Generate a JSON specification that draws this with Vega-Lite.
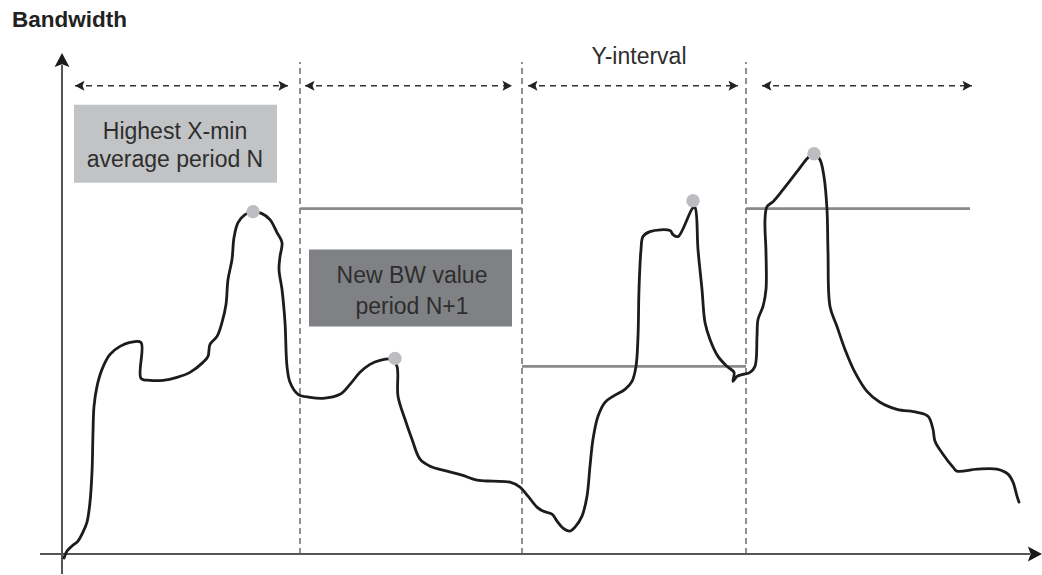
{
  "$schema": "https://vega.github.io/schema/vega-lite/v6.json",
  "width": 1042,
  "height": 575,
  "autosize": {"type": "fit", "contains": "padding"},
  "padding": 0,
  "background": "white",
  "config": {"view": {"stroke": null}},
  "datasets": {
    "curve": [
      {"i":1,"t":2,"bw":-4},{"i":2,"t":5,"bw":3},{"i":3,"t":10,"bw":8},{"i":4,"t":16,"bw":13},{"i":5,"t":21,"bw":22},
      {"i":6,"t":25,"bw":32},{"i":7,"t":28,"bw":52},{"i":8,"t":30,"bw":82},{"i":9,"t":31,"bw":122},{"i":10,"t":32,"bw":148},
      {"i":11,"t":35,"bw":168},{"i":12,"t":40,"bw":185},{"i":13,"t":48,"bw":200},{"i":14,"t":58,"bw":208},{"i":15,"t":68,"bw":212},
      {"i":16,"t":79,"bw":212},{"i":17,"t":79,"bw":176},{"i":18,"t":88,"bw":174},{"i":19,"t":101,"bw":174},{"i":20,"t":115,"bw":177},
      {"i":21,"t":128,"bw":182},{"i":22,"t":141,"bw":192},{"i":23,"t":146,"bw":198},{"i":24,"t":148,"bw":210},{"i":25,"t":155,"bw":218},
      {"i":26,"t":160,"bw":232},{"i":27,"t":164,"bw":250},{"i":28,"t":166,"bw":275},{"i":29,"t":170,"bw":295},{"i":30,"t":172,"bw":317},
      {"i":31,"t":176,"bw":332},{"i":32,"t":183,"bw":340},{"i":33,"t":191,"bw":343},{"i":34,"t":200,"bw":341},{"i":35,"t":208,"bw":335},
      {"i":36,"t":215,"bw":322},{"i":37,"t":220,"bw":312},{"i":38,"t":218,"bw":298},{"i":39,"t":217,"bw":285},{"i":40,"t":220,"bw":265},
      {"i":41,"t":223,"bw":232},{"i":42,"t":225,"bw":188},{"i":43,"t":228,"bw":172},{"i":44,"t":236,"bw":160},{"i":45,"t":248,"bw":157},
      {"i":46,"t":261,"bw":156},{"i":47,"t":278,"bw":160},{"i":48,"t":288,"bw":170},{"i":49,"t":298,"bw":182},{"i":50,"t":308,"bw":190},
      {"i":51,"t":318,"bw":194},{"i":52,"t":330,"bw":195},{"i":53,"t":335,"bw":188},{"i":54,"t":336,"bw":158},{"i":55,"t":343,"bw":135},
      {"i":56,"t":350,"bw":115},{"i":57,"t":358,"bw":95},{"i":58,"t":368,"bw":88},{"i":59,"t":385,"bw":83},{"i":60,"t":400,"bw":79},
      {"i":61,"t":415,"bw":74},{"i":62,"t":431,"bw":73},{"i":63,"t":448,"bw":72},{"i":64,"t":458,"bw":67},{"i":65,"t":466,"bw":58},
      {"i":66,"t":475,"bw":47},{"i":67,"t":481,"bw":43},{"i":68,"t":490,"bw":40},{"i":69,"t":495,"bw":33},{"i":70,"t":501,"bw":26},
      {"i":71,"t":508,"bw":23},{"i":72,"t":513,"bw":27},{"i":73,"t":520,"bw":38},{"i":74,"t":525,"bw":58},{"i":75,"t":528,"bw":88},
      {"i":76,"t":531,"bw":115},{"i":77,"t":536,"bw":138},{"i":78,"t":543,"bw":152},{"i":79,"t":551,"bw":158},{"i":80,"t":563,"bw":165},
      {"i":81,"t":570,"bw":173},{"i":82,"t":574,"bw":188},{"i":83,"t":576,"bw":218},{"i":84,"t":577,"bw":265},{"i":85,"t":579,"bw":305},
      {"i":86,"t":581,"bw":318},{"i":87,"t":588,"bw":323},{"i":88,"t":608,"bw":324},{"i":89,"t":611,"bw":320},{"i":90,"t":616,"bw":318},
      {"i":91,"t":631,"bw":347},{"i":92,"t":633,"bw":347},{"i":93,"t":636,"bw":305},{"i":94,"t":640,"bw":265},{"i":95,"t":643,"bw":232},
      {"i":96,"t":648,"bw":215},{"i":97,"t":656,"bw":198},{"i":98,"t":665,"bw":188},{"i":99,"t":672,"bw":182},{"i":100,"t":671,"bw":173},
      {"i":101,"t":675,"bw":178},{"i":102,"t":681,"bw":180},{"i":103,"t":688,"bw":182},{"i":104,"t":693,"bw":188},{"i":105,"t":695,"bw":218},
      {"i":106,"t":696,"bw":235},{"i":107,"t":701,"bw":248},{"i":108,"t":704,"bw":265},{"i":109,"t":704,"bw":302},{"i":110,"t":703,"bw":335},
      {"i":111,"t":705,"bw":348},{"i":112,"t":711,"bw":353},{"i":113,"t":721,"bw":365},{"i":114,"t":735,"bw":383},{"i":115,"t":746,"bw":397},
      {"i":116,"t":752,"bw":401},{"i":117,"t":758,"bw":395},{"i":118,"t":762,"bw":378},{"i":119,"t":765,"bw":345},{"i":120,"t":766,"bw":302},
      {"i":121,"t":768,"bw":248},{"i":122,"t":775,"bw":228},{"i":123,"t":783,"bw":205},{"i":124,"t":793,"bw":182},{"i":125,"t":805,"bw":163},
      {"i":126,"t":818,"bw":152},{"i":127,"t":835,"bw":145},{"i":128,"t":855,"bw":142},{"i":129,"t":866,"bw":138},{"i":130,"t":871,"bw":125},
      {"i":131,"t":873,"bw":113},{"i":132,"t":881,"bw":100},{"i":133,"t":891,"bw":87},{"i":134,"t":895,"bw":83},{"i":135,"t":915,"bw":85},
      {"i":136,"t":935,"bw":85},{"i":137,"t":946,"bw":80},{"i":138,"t":951,"bw":72},{"i":139,"t":955,"bw":58},{"i":140,"t":957,"bw":52}
    ],
    "peaks": [
      {"t":191,"bw":343},{"t":333,"bw":196},{"t":631,"bw":354},{"t":752,"bw":401}
    ],
    "bounds": [
      {"t":238,"bw0":0,"bw1":493},{"t":460,"bw0":0,"bw1":493},{"t":684,"bw0":0,"bw1":493}
    ],
    "levels": [
      {"t0":238,"t1":460,"bw":346},{"t0":460,"t1":684,"bw":188},{"t0":684,"t1":908,"bw":346}
    ],
    "spans": [
      {"t0":13,"t1":226,"bw":469},{"t0":243,"t1":450,"bw":469},{"t0":466,"t1":676,"bw":469},{"t0":700,"t1":910,"bw":469}
    ],
    "heads": [
      {"t":13,"bw":469,"dir":"left","kind":"span"},{"t":226,"bw":469,"dir":"right","kind":"span"},
      {"t":243,"bw":469,"dir":"left","kind":"span"},{"t":450,"bw":469,"dir":"right","kind":"span"},
      {"t":466,"bw":469,"dir":"left","kind":"span"},{"t":676,"bw":469,"dir":"right","kind":"span"},
      {"t":700,"bw":469,"dir":"left","kind":"span"},{"t":910,"bw":469,"dir":"right","kind":"span"},
      {"t":980,"bw":0,"dir":"right","kind":"axis"},{"t":0,"bw":502,"dir":"up","kind":"axis"}
    ],
    "axes": [
      {"t0":-22,"t1":968,"bw0":0,"bw1":0},{"t0":0,"t1":0,"bw0":-20,"bw1":490}
    ],
    "boxes": [
      {"t0":12,"t1":215,"bw0":372,"bw1":450,"tone":"light"},
      {"t0":247,"t1":450,"bw0":228,"bw1":305,"tone":"dark"}
    ],
    "labels": [
      {"t":113,"bw":416,"text":"Highest X-min"},
      {"t":113,"bw":388,"text":"average period N"},
      {"t":350,"bw":272,"text":"New BW value"},
      {"t":350,"bw":240,"text":"period N+1"},
      {"t":577,"bw":491,"text":"Y-interval"}
    ],
    "title": [
      {"t":-50,"bw":528,"text":"Bandwidth"}
    ]
  },
  "layer": [
    {
      "data": {"name": "boxes"},
      "mark": {"type": "rect"},
      "encoding": {
        "x": {"field": "t0", "type": "quantitative", "scale": {"domain": [-62, 980], "nice": false, "zero": false}, "axis": null},
        "x2": {"field": "t1"},
        "y": {"field": "bw0", "type": "quantitative", "scale": {"domain": [-20, 555], "nice": false, "zero": false}, "axis": null},
        "y2": {"field": "bw1"},
        "color": {"field": "tone", "type": "nominal", "scale": {"domain": ["light", "dark"], "range": ["#c2c3c5", "#808184"]}, "legend": null}
      }
    },
    {
      "data": {"name": "bounds"},
      "mark": {"type": "rule", "color": "#555555", "strokeWidth": 1.3, "strokeDash": [6, 4]},
      "encoding": {
        "x": {"field": "t", "type": "quantitative", "axis": null},
        "y": {"field": "bw0", "type": "quantitative", "axis": null},
        "y2": {"field": "bw1"}
      }
    },
    {
      "data": {"name": "axes"},
      "mark": {"type": "rule", "color": "#555555", "strokeWidth": 2},
      "encoding": {
        "x": {"field": "t0", "type": "quantitative", "axis": null},
        "x2": {"field": "t1"},
        "y": {"field": "bw0", "type": "quantitative", "axis": null},
        "y2": {"field": "bw1"}
      }
    },
    {
      "data": {"name": "levels"},
      "mark": {"type": "rule", "color": "#8a8a8c", "strokeWidth": 2.8},
      "encoding": {
        "x": {"field": "t0", "type": "quantitative", "axis": null},
        "x2": {"field": "t1"},
        "y": {"field": "bw", "type": "quantitative", "axis": null}
      }
    },
    {
      "data": {"name": "spans"},
      "mark": {"type": "rule", "color": "#333333", "strokeWidth": 1.5, "strokeDash": [6, 5]},
      "encoding": {
        "x": {"field": "t0", "type": "quantitative", "axis": null},
        "x2": {"field": "t1"},
        "y": {"field": "bw", "type": "quantitative", "axis": null}
      }
    },
    {
      "data": {"name": "heads"},
      "transform": [{"filter": "datum.kind === 'span' && datum.dir === 'right'"}],
      "mark": {"type": "point", "shape": "M0,0 L-2,-1.05 L-1.6,0 L-2,1.05 Z", "filled": true, "color": "#222222", "opacity": 1, "size": 90, "angle": 0},
      "encoding": {
        "x": {"field": "t", "type": "quantitative", "axis": null},
        "y": {"field": "bw", "type": "quantitative", "axis": null}
      }
    },
    {
      "data": {"name": "heads"},
      "transform": [{"filter": "datum.kind === 'span' && datum.dir === 'left'"}],
      "mark": {"type": "point", "shape": "M0,0 L-2,-1.05 L-1.6,0 L-2,1.05 Z", "filled": true, "color": "#222222", "opacity": 1, "size": 90, "angle": 180},
      "encoding": {
        "x": {"field": "t", "type": "quantitative", "axis": null},
        "y": {"field": "bw", "type": "quantitative", "axis": null}
      }
    },
    {
      "data": {"name": "heads"},
      "transform": [{"filter": "datum.kind === 'axis' && datum.dir === 'right'"}],
      "mark": {"type": "point", "shape": "M0,0 L-2,-1.05 L-1.6,0 L-2,1.05 Z", "filled": true, "color": "#1a1a1a", "opacity": 1, "size": 200, "angle": 0},
      "encoding": {
        "x": {"field": "t", "type": "quantitative", "axis": null},
        "y": {"field": "bw", "type": "quantitative", "axis": null}
      }
    },
    {
      "data": {"name": "heads"},
      "transform": [{"filter": "datum.kind === 'axis' && datum.dir === 'up'"}],
      "mark": {"type": "point", "shape": "M0,0 L-2,-1.05 L-1.6,0 L-2,1.05 Z", "filled": true, "color": "#1a1a1a", "opacity": 1, "size": 200, "angle": 270},
      "encoding": {
        "x": {"field": "t", "type": "quantitative", "axis": null},
        "y": {"field": "bw", "type": "quantitative", "axis": null}
      }
    },
    {
      "data": {"name": "curve"},
      "mark": {"type": "line", "color": "#1c1c1c", "strokeWidth": 2.8, "interpolate": "catmull-rom", "strokeJoin": "round", "strokeCap": "round"},
      "encoding": {
        "x": {"field": "t", "type": "quantitative", "axis": null},
        "y": {"field": "bw", "type": "quantitative", "axis": null},
        "order": {"field": "i", "type": "quantitative"}
      }
    },
    {
      "data": {"name": "peaks"},
      "mark": {"type": "point", "shape": "circle", "filled": true, "color": "#bcbdc0", "opacity": 1, "size": 180},
      "encoding": {
        "x": {"field": "t", "type": "quantitative", "axis": null},
        "y": {"field": "bw", "type": "quantitative", "axis": null}
      }
    },
    {
      "data": {"name": "labels"},
      "mark": {"type": "text", "font": "Liberation Sans", "fontSize": 23, "color": "#2e2e2e", "align": "center", "baseline": "alphabetic"},
      "encoding": {
        "x": {"field": "t", "type": "quantitative", "axis": null},
        "y": {"field": "bw", "type": "quantitative", "axis": null},
        "text": {"field": "text", "type": "nominal"}
      }
    },
    {
      "data": {"name": "title"},
      "mark": {"type": "text", "font": "Liberation Sans", "fontSize": 22.5, "fontWeight": "bold", "color": "#222222", "align": "left", "baseline": "alphabetic"},
      "encoding": {
        "x": {"field": "t", "type": "quantitative", "axis": null},
        "y": {"field": "bw", "type": "quantitative", "axis": null},
        "text": {"field": "text", "type": "nominal"}
      }
    }
  ]
}
